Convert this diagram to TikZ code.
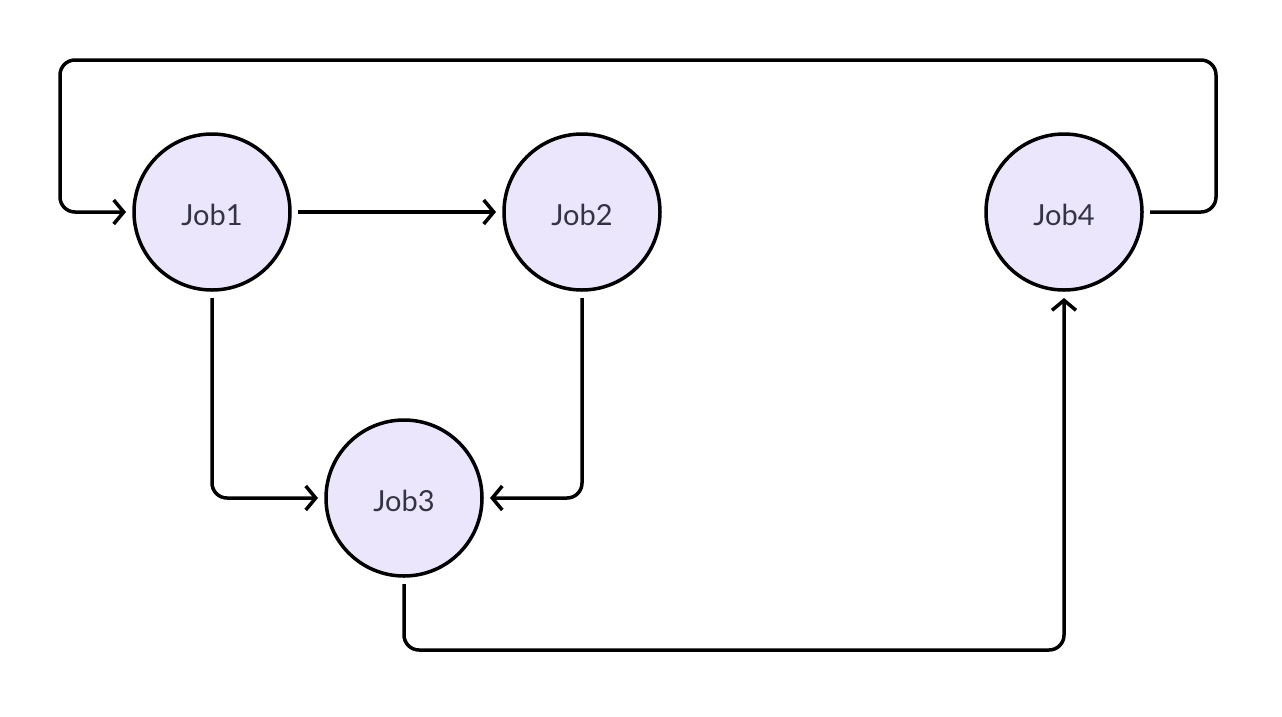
\documentclass[tikz,border=0pt]{standalone}
\usepackage{fontspec}
\setmainfont{Lato}
\usetikzlibrary{arrows.meta}
\definecolor{jobfill}{HTML}{ECE6FD}
\definecolor{jobtext}{HTML}{333344}
\tikzset{
  job/.style={circle, draw=black, line width=3.5pt, fill=jobfill, minimum size=156pt, inner sep=0pt, outer sep=8pt, text=jobtext, text height=27pt, text depth=0pt, font=\fontsize{29}{34}\selectfont},
  conn/.style={draw=black, line width=3.5pt, rounded corners=15pt, -{Straight Barb[length=10pt,width=24pt,line width=3.5pt]}}
}
\begin{document}
\begin{tikzpicture}[x=1pt,y=1pt]
\useasboundingbox (0,0) rectangle (1282,-716);
\fill[white] (0,0) rectangle (1282,-716);
\node[job] (j1) at (212,-212) {Job1};
\node[job] (j2) at (582,-212) {Job2};
\node[job] (j3) at (404,-498) {Job3};
\node[job] (j4) at (1064,-212) {Job4};
\coordinate (b) at (700,-650);
\coordinate (rt) at (1216,-60);
\coordinate (lt) at (60,-60);
\draw[conn] (j1.east) -- (j2.west);
\draw[conn] (j1.south) |- (j3.west);
\draw[conn] (j2.south) |- (j3.east);
\draw[conn] (j3.south) |- (b) -| (j4.south);
\draw[conn] (j4.east) -| (rt) -- (lt) |- (j1.west);
\end{tikzpicture}
\end{document}
